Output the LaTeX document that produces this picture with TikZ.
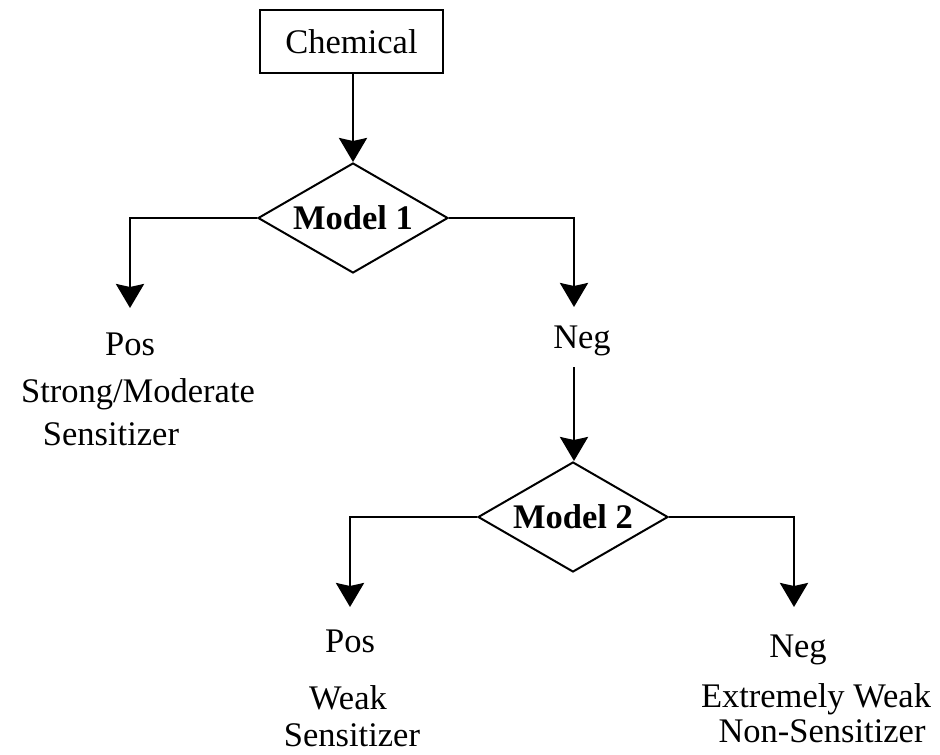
\documentclass[tikz,border=0pt]{standalone}
\usepackage{fontspec}
\setmainfont{Liberation Serif}
\usetikzlibrary{shapes.geometric,arrows.meta}

\begin{document}
\begin{tikzpicture}[x=1pt,y=-1pt,
  txtfont/.style={font=\fontsize{34.5}{40}\selectfont},
  lbl/.style={txtfont, anchor=base, inner sep=0pt},
  box/.style={draw, rectangle, txtfont, minimum width=183pt, minimum height=63pt,
              inner sep=0pt, line width=2pt},
  decision/.style={draw, diamond, aspect=1.727, minimum width=190pt,
                   minimum height=110pt, inner sep=0pt, line width=2pt,
                   font=\fontsize{34.5}{40}\selectfont\bfseries},
  conn/.style={line width=2.8pt, -{Stealth[length=24pt,width=28pt,inset=3pt]}}]

  % page frame
  \useasboundingbox (0,0) rectangle (940,755);

  % start box and the two decisions
  \node[box] (chem) at (351.5,41.5) {Chemical};
  \node[decision] (m1) at (353,218) {Model 1};
  \node[decision] (m2) at (573,517) {Model 2};

  % outcome labels of the first model
  \node[lbl] (pos1)  at (130,355) {Pos};
  \node[lbl] (pos1a) at (138,402) {Strong/Moderate};
  \node[lbl] (pos1b) at (111,445) {Sensitizer};
  \node[lbl] (neg1)  at (582,348) {Neg};

  % outcome labels of the second model
  \node[lbl] (pos2)  at (350,652) {Pos};
  \node[lbl] (pos2a) at (348,709) {Weak};
  \node[lbl] (pos2b) at (352,746) {Sensitizer};
  \node[lbl] (neg2)  at (798,657) {Neg};
  \node[lbl] (neg2a) at (816,707) {Extremely Weak};
  \node[lbl] (neg2b) at (822,742) {Non-Sensitizer};

  % arrow end points above the labels
  \coordinate (t1) at (130,308);
  \coordinate (t2) at (574,307);
  \coordinate (s3) at (574,367);
  \coordinate (t4) at (350,607);
  \coordinate (t5) at (794,607);

  % connectors
  \draw[conn] (chem.south -| m1.north) -- (m1.north);
  \draw[conn] (m1.west) -| (t1);
  \draw[conn] (m1.east) -| (t2);
  \draw[conn] (s3) -- (s3 |- m2.north);
  \draw[conn] (m2.west) -| (t4);
  \draw[conn] (m2.east) -| (t5);
\end{tikzpicture}
\end{document}
